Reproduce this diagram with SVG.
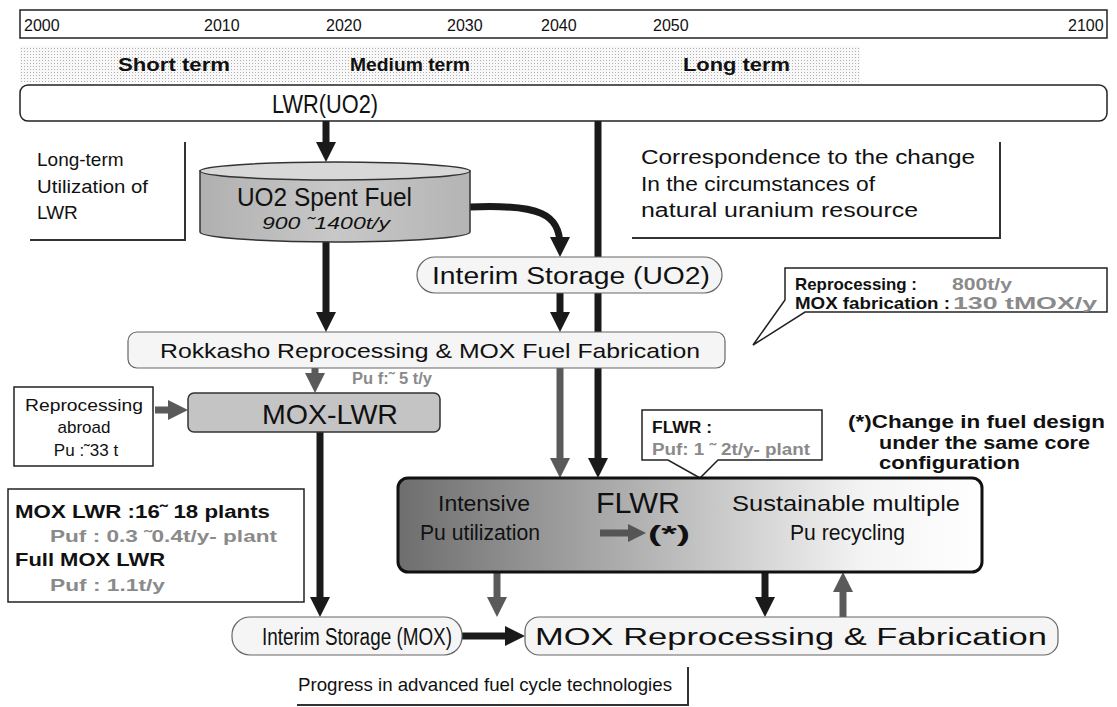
<svg xmlns="http://www.w3.org/2000/svg" width="1117" height="707" viewBox="0 0 1117 707">
<style>
text{font-family:"Liberation Sans",Arial,sans-serif;fill:#111}
.yr{font-size:16px}
.term{font-size:19px;font-weight:bold}
.b{font-weight:bold}
.g{fill:#8a8a8a;font-weight:bold}
.box{fill:#fff;stroke:#222;stroke-width:1.5}
.pill{fill:#f5f5f5;stroke:#666;stroke-width:1.2}
.sh{fill:none;stroke:#333;stroke-width:2}
.ak{stroke:#1a1a1a;stroke-width:7;fill:none}
.ag{stroke:#5a5a5a;stroke-width:7;fill:none}
</style>
<defs>
<marker id="hk" markerUnits="userSpaceOnUse" markerWidth="20" markerHeight="20" viewBox="0 0 20 20" refX="9" refY="10" orient="auto"><path d="M0,0 L20,10 L0,20 z" fill="#1a1a1a"/></marker>
<marker id="hg" markerUnits="userSpaceOnUse" markerWidth="20" markerHeight="20" viewBox="0 0 20 20" refX="9" refY="10" orient="auto"><path d="M0,0 L20,10 L0,20 z" fill="#5a5a5a"/></marker>
<pattern id="dots" width="3" height="3" patternUnits="userSpaceOnUse"><rect width="3" height="3" fill="#f8f8f8"/><rect width="1" height="1" fill="#b0b0b0"/></pattern>
<linearGradient id="flwr" x1="0" y1="0" x2="1" y2="0"><stop offset="0" stop-color="#6e6e6e"/><stop offset="0.45" stop-color="#b8b8b8"/><stop offset="0.8" stop-color="#f4f4f4"/><stop offset="1" stop-color="#ffffff"/></linearGradient>
<linearGradient id="cyl" x1="0" y1="0" x2="1" y2="0"><stop offset="0" stop-color="#b0b0b0"/><stop offset="0.5" stop-color="#c8c8c8"/><stop offset="1" stop-color="#b4b4b4"/></linearGradient>
</defs>

<g id="timeline">
<rect x="20" y="10" width="1087" height="28" fill="#fff" stroke="#222" stroke-width="1.5"/>
<text class="yr" x="24" y="31">2000</text>
<text class="yr" x="204" y="31">2010</text>
<text class="yr" x="326" y="31">2020</text>
<text class="yr" x="447" y="31">2030</text>
<text class="yr" x="541" y="31">2040</text>
<text class="yr" x="653" y="31">2050</text>
<text class="yr" x="1068" y="31">2100</text>
</g>

<g id="terms">
<rect x="20" y="46" width="840" height="36" fill="url(#dots)"/>
<text class="term" x="118" y="71" textLength="112" lengthAdjust="spacingAndGlyphs">Short term</text>
<text class="term" x="350" y="71" textLength="120" lengthAdjust="spacingAndGlyphs">Medium term</text>
<text class="term" x="683" y="71" textLength="107" lengthAdjust="spacingAndGlyphs">Long term</text>
</g>

<g id="connectors">
<line class="ak" x1="326" y1="121" x2="326" y2="151" marker-end="url(#hk)"/>
<line class="ak" x1="598" y1="121" x2="598" y2="467" marker-end="url(#hk)"/>
<path class="ak" d="M470,207 C540,204 560,214 560,246" marker-end="url(#hk)"/>
<line class="ak" x1="326" y1="240" x2="326" y2="321" marker-end="url(#hk)"/>
<line class="ak" x1="560" y1="293" x2="560" y2="321" marker-end="url(#hk)"/>
<line class="ag" x1="315" y1="368" x2="315" y2="382" marker-end="url(#hg)"/>
<line class="ag" x1="155" y1="410" x2="177" y2="410" marker-end="url(#hg)"/>
<line class="ag" x1="560" y1="368" x2="560" y2="467" marker-end="url(#hg)"/>
<line class="ak" x1="320" y1="432" x2="320" y2="606" marker-end="url(#hk)"/>
<line class="ag" x1="497" y1="572" x2="497" y2="606" marker-end="url(#hg)"/>
<line class="ak" x1="765" y1="572" x2="765" y2="606" marker-end="url(#hk)"/>
<line class="ag" x1="843" y1="617" x2="843" y2="583" marker-end="url(#hg)"/>
<line class="ak" x1="462" y1="636" x2="514" y2="636" marker-end="url(#hk)"/>
</g>

<g id="lwr">
<rect x="20" y="85" width="1087" height="36" rx="8" class="box"/>
<text x="272" y="113" font-size="25" textLength="106" lengthAdjust="spacingAndGlyphs">LWR(UO2)</text>
</g>

<g id="longterm-note">
<path class="sh" d="M185,142 V240 H30"/>
<text x="37" y="166" font-size="19">Long-term</text>
<text x="37" y="193" font-size="19" textLength="111" lengthAdjust="spacingAndGlyphs">Utilization of</text>
<text x="37" y="219" font-size="19">LWR</text>
</g>

<g id="spent-fuel">
<path d="M200,171 V232 A135,10 0 0 0 470,232 V171 Z" fill="url(#cyl)" stroke="#333" stroke-width="1.5"/>
<ellipse cx="335" cy="171" rx="135" ry="9" fill="#d8d8d8" stroke="#333" stroke-width="1.5"/>
<text x="237" y="206" font-size="25" textLength="175" lengthAdjust="spacingAndGlyphs">UO2 Spent Fuel</text>
<text x="262" y="229" font-size="17" font-style="italic" textLength="128" lengthAdjust="spacingAndGlyphs">900 ˜1400t/y</text>
</g>

<g id="correspondence-note">
<path class="sh" d="M1000,142 V238 H632"/>
<text x="641" y="164" font-size="20" textLength="334" lengthAdjust="spacingAndGlyphs">Correspondence to the change</text>
<text x="641" y="191" font-size="20" textLength="234" lengthAdjust="spacingAndGlyphs">In the circumstances of</text>
<text x="641" y="217" font-size="20" textLength="277" lengthAdjust="spacingAndGlyphs">natural uranium resource</text>
</g>

<g id="interim-uo2">
<rect x="417" y="257" width="305" height="36" rx="18" class="pill"/>
<text x="432" y="284" font-size="23" textLength="278" lengthAdjust="spacingAndGlyphs">Interim Storage (UO2)</text>
</g>

<g id="rokkasho">
<rect x="128" y="332" width="597" height="36" rx="9" class="pill"/>
<text x="160" y="358" font-size="21" textLength="540" lengthAdjust="spacingAndGlyphs">Rokkasho Reprocessing &amp; MOX Fuel Fabrication</text>
</g>

<g id="reprocessing-callout">
<path d="M785,268 H1107 V312 H805 L753,345 L785,300 Z" fill="#fff" stroke="#222" stroke-width="1.5"/>
<text x="795" y="290" font-size="17" class="b" textLength="122" lengthAdjust="spacingAndGlyphs">Reprocessing :</text>
<text x="952" y="290" font-size="17" class="g" textLength="60" lengthAdjust="spacingAndGlyphs">800t/y</text>
<text x="795" y="309" font-size="17" class="b" textLength="155" lengthAdjust="spacingAndGlyphs">MOX fabrication :</text>
<text x="953" y="309" font-size="17" class="g" textLength="144" lengthAdjust="spacingAndGlyphs">130 tMOX/y</text>
</g>

<g id="puf-label">
<text x="352" y="384" font-size="16" class="g" textLength="80" lengthAdjust="spacingAndGlyphs">Pu f:˜ 5 t/y</text>
</g>

<g id="abroad">
<rect x="14" y="387" width="139" height="79" class="box"/>
<text x="25" y="411" font-size="17" textLength="118" lengthAdjust="spacingAndGlyphs">Reprocessing</text>
<text x="84" y="433" font-size="17" text-anchor="middle">abroad</text>
<text x="86" y="456" font-size="17" text-anchor="middle">Pu :˜33 t</text>
</g>

<g id="mox-lwr">
<rect x="188" y="393" width="252" height="39" rx="6" fill="#c4c4c4" stroke="#333" stroke-width="1.5"/>
<text x="262" y="424" font-size="28" textLength="136" lengthAdjust="spacingAndGlyphs">MOX-LWR</text>
</g>

<g id="mox-lwr-note">
<rect x="8" y="489" width="296" height="113" class="box"/>
<text x="15" y="518" font-size="18" class="b" textLength="255" lengthAdjust="spacingAndGlyphs">MOX LWR :16˜ 18 plants</text>
<text x="50" y="542" font-size="17" class="g" textLength="227" lengthAdjust="spacingAndGlyphs">Puf :  0.3 ˜0.4t/y- plant</text>
<text x="15" y="566" font-size="18" class="b" textLength="150" lengthAdjust="spacingAndGlyphs">Full MOX LWR</text>
<text x="50" y="591" font-size="17" class="g" textLength="115" lengthAdjust="spacingAndGlyphs">Puf :  1.1t/y</text>
</g>

<g id="star-note">
<text x="848" y="428" font-size="18" class="b" textLength="257" lengthAdjust="spacingAndGlyphs">(*)Change in fuel design</text>
<text x="879" y="449" font-size="18" class="b" textLength="211" lengthAdjust="spacingAndGlyphs">under the same core</text>
<text x="879" y="469" font-size="18" class="b" textLength="141" lengthAdjust="spacingAndGlyphs">configuration</text>
</g>

<g id="flwr-callout">
<path d="M642,410 H822 V460 H718 L700,478 L668,460 H642 Z" fill="#fff" stroke="#222" stroke-width="1.5"/>
<text x="652" y="433" font-size="16" class="b" textLength="60" lengthAdjust="spacingAndGlyphs">FLWR :</text>
<text x="652" y="455" font-size="16" class="g" textLength="158" lengthAdjust="spacingAndGlyphs">Puf:  1 ˜ 2t/y- plant</text>
</g>

<g id="flwr">
<rect x="398" y="478" width="584" height="94" rx="10" fill="url(#flwr)" stroke="#111" stroke-width="3"/>
<text x="438" y="511" font-size="22" textLength="92" lengthAdjust="spacingAndGlyphs">Intensive</text>
<text x="420" y="540" font-size="22" textLength="120" lengthAdjust="spacingAndGlyphs">Pu utilization</text>
<text x="596" y="513" font-size="30" textLength="84" lengthAdjust="spacingAndGlyphs">FLWR</text>
<path d="M600,533 H630" stroke="#555" stroke-width="7"/>
<path d="M628,524 L646,533 L628,542 Z" fill="#555"/>
<text x="648" y="541" font-size="22" class="b" textLength="42" lengthAdjust="spacingAndGlyphs">(*)</text>
<text x="732" y="511" font-size="22" textLength="228" lengthAdjust="spacingAndGlyphs">Sustainable multiple</text>
<text x="790" y="540" font-size="22" textLength="115" lengthAdjust="spacingAndGlyphs">Pu recycling</text>
</g>

<g id="interim-mox">
<rect x="232" y="617" width="230" height="38" rx="18" class="pill"/>
<text x="262" y="645" font-size="23" textLength="190" lengthAdjust="spacingAndGlyphs">Interim Storage (MOX)</text>
</g>

<g id="mox-reprocessing">
<rect x="525" y="617" width="533" height="38" rx="14" class="pill"/>
<text x="535" y="645" font-size="23" textLength="512" lengthAdjust="spacingAndGlyphs">MOX Reprocessing &amp; Fabrication</text>
</g>

<g id="progress-note">
<path class="sh" d="M688,667 V705 H297"/>
<text x="298" y="691" font-size="19" textLength="374" lengthAdjust="spacingAndGlyphs">Progress in advanced fuel cycle technologies</text>
</g>
</svg>
